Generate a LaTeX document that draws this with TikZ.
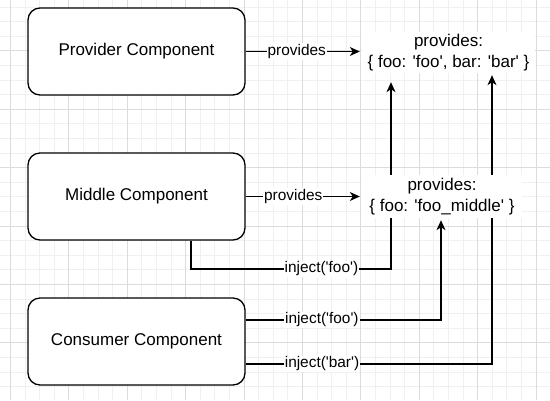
\documentclass[tikz,border=0pt]{standalone}
\usepackage{fontspec}
\newfontfamily\drawfont{Liberation Sans}
\usetikzlibrary{arrows.meta,backgrounds}
\definecolor{gridminor}{HTML}{F0F0F0}
\definecolor{gridmajor}{HTML}{DCDCDC}

\begin{document}
\begin{tikzpicture}[x=1pt,y=-1pt,
        comp/.style={draw,line width=1.3pt,rounded corners=12pt,fill=white,minimum width=217pt,minimum height=87pt,font=\drawfont\fontsize{17}{20}\selectfont},
        prov/.style={fill=white,align=center,inner sep=0pt,font=\drawfont\fontsize{17}{21}\selectfont},
        link/.style={line width=1.2pt,-{Stealth[length=10pt,width=9pt,inset=3pt]},shorten >=2pt},
        lbl/.style={fill=white,inner sep=1pt,font=\drawfont\fontsize{15.4}{18}\selectfont}]
    \useasboundingbox (0,0) rectangle (550,400);
    \begin{pgfonlayer}{background}
        \fill[white] (0,0) rectangle (550,400);
        \foreach \i in {0,...,37} \draw[gridminor,line width=1pt] ({10.5+14.6*\i},0) -- ({10.5+14.6*\i},400);
        \foreach \j in {0,...,27} \draw[gridminor,line width=1pt] (0,{7.1+14.6*\j}) -- (550,{7.1+14.6*\j});
        \foreach \i in {0,...,9} \draw[gridmajor,line width=1pt] ({10.5+58.4*\i},0) -- ({10.5+58.4*\i},400);
        \foreach \j in {1,...,7} \draw[gridmajor,line width=1pt] (0,{-7.5+58.4*\j}) -- (550,{-7.5+58.4*\j});
    \end{pgfonlayer}

    \node[comp] (pbox) at (136.5,51.5) {Provider Component};
    \node[comp] (mbox) at (136.5,196.5) {Middle Component};
    \node[comp] (cbox) at (136.5,341.5) {Consumer Component};
    \node[prov,minimum width=173pt,minimum height=41pt] (ptop) at (448.5,52.5) {provides:\\\{ foo: 'foo', bar: 'bar' \}};
    \node[prov,minimum width=160pt,minimum height=43pt] (pmid) at (442,196.5) {provides:\\\{ foo: 'foo\_middle' \}};

    % links run under the text boxes
    \begin{pgfonlayer}{background}
        \draw[link] (pbox.east) -- node[lbl,pos=0.44] {provides} (pbox.east -| ptop.west);
        \draw[link] (mbox.east) -- node[lbl,pos=0.41] {provides} (mbox.east -| pmid.west);
        \draw[link,shorten >=9pt] ([xshift=54.5pt]mbox.south) |- node[lbl,pos=0.826] {inject('foo')} (391,269) -- ([xshift=-57.5pt]ptop.south);
        \draw[link] ([yshift=21.5pt]cbox.east) -| node[lbl,pos=0.195] {inject('foo')} ([xshift=-1pt]pmid.south);
        \draw[link] ([yshift=-22.5pt]cbox.east) -| node[lbl,pos=0.155] {inject('bar')} ([xshift=43.5pt]ptop.south);
    \end{pgfonlayer}
\end{tikzpicture}
\end{document}
